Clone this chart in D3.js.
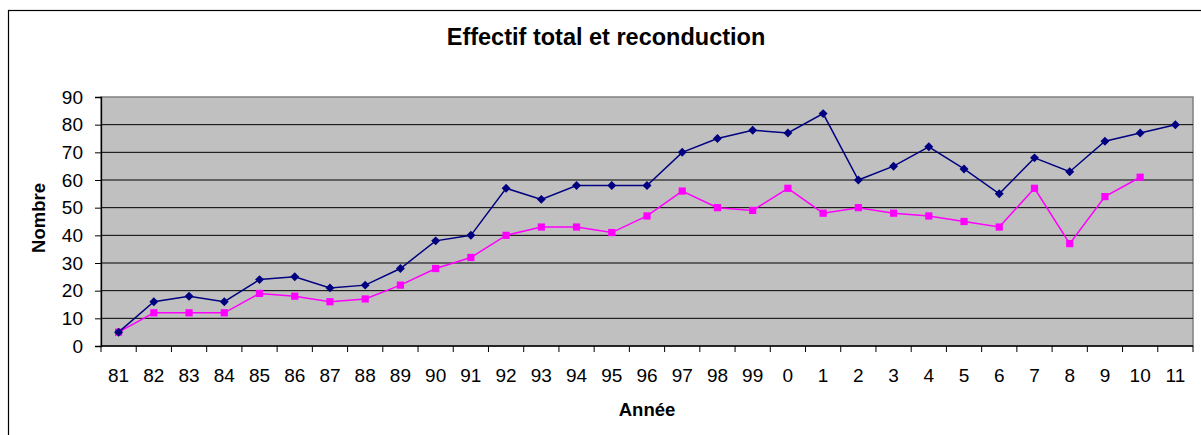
<!DOCTYPE html>
<html>
<head>
<meta charset="utf-8">
<script src="https://cdn.jsdelivr.net/npm/d3@7"></script>
<style>
  body { margin: 0; background: #fff; }
  text { font-family: "Liberation Sans", Arial, sans-serif; }
</style>
</head>
<body>
<svg id="chart" width="1201" height="435"></svg>
<script>
// years on the x axis
const annees = ["81","82","83","84","85","86","87","88","89","90","91","92","93","94","95","96","97","98","99","0","1","2","3","4","5","6","7","8","9","10","11"];
// effectif total (navy, diamonds)
const effectif = [5,16,18,16,24,25,21,22,28,38,40,57,53,58,58,58,70,75,78,77,84,60,65,72,64,55,68,63,74,77,80];
// reconduction (magenta, squares) - no value for 11
const reconduction = [5,12,12,12,19,18,16,17,22,28,32,40,43,43,41,47,56,50,49,57,48,50,48,47,45,43,57,37,54,61,null];
const yTicks = [0,10,20,30,40,50,60,70,80,90];

const svg = d3.select("#chart");

// outer chart border (runs off the right and bottom edge)
svg.append("rect")
  .attr("x", 8.5).attr("y", 10.5)
  .attr("width", 1210).attr("height", 440)
  .attr("fill", "#fff").attr("stroke", "#000").attr("stroke-width", 1.2);

const pLeft = 101, pRight = 1193, pTop = 97, pBottom = 346;

var x = d3.scaleBand().domain(annees).range([pLeft, pRight]);
var y = d3.scaleLinear().domain([0, 90]).range([pBottom, pTop]);

// plot area
svg.append("rect")
  .attr("x", pLeft).attr("y", pTop)
  .attr("width", pRight - pLeft).attr("height", pBottom - pTop)
  .attr("fill", "#c0c0c0").attr("stroke", "#808080").attr("stroke-width", 1.5);

// gridlines
svg.append("g")
  .selectAll("line")
  .data(yTicks.filter(d => d > 0 && d < 90))
  .enter().append("line")
  .attr("x1", pLeft).attr("x2", pRight)
  .attr("y1", d => y(d)).attr("y2", d => y(d))
  .attr("stroke", "#000").attr("stroke-width", 1);

// y axis
var yAxis = svg.append("g")
  .attr("transform", `translate(${pLeft},0)`)
  .call(d3.axisLeft(y).tickValues(yTicks).tickSize(6).tickPadding(12));
yAxis.select(".domain").attr("stroke", "#000").attr("stroke-width", 1.3);
yAxis.selectAll(".tick line").attr("stroke", "#000");
yAxis.selectAll("text").attr("font-size", 19).attr("fill", "#000")
  .style("font-family", "'Liberation Sans', Arial, sans-serif");

// x axis: ticks at the category boundaries
var xAxis = svg.append("g")
  .attr("transform", `translate(0,${pBottom})`);
xAxis.append("line")
  .attr("x1", pLeft).attr("x2", pRight)
  .attr("stroke", "#000").attr("stroke-width", 1.5);
xAxis.selectAll(".tk")
  .data(annees.concat(["end"]))
  .enter().append("line")
  .attr("class", "tk")
  .attr("x1", (d, i) => pLeft + i * x.step())
  .attr("x2", (d, i) => pLeft + i * x.step())
  .attr("y1", 0).attr("y2", 6)
  .attr("stroke", "#000");
xAxis.selectAll(".lbl")
  .data(annees)
  .enter().append("text")
  .attr("class", "lbl")
  .attr("x", d => x(d) + x.bandwidth() / 2)
  .attr("y", 36)
  .attr("text-anchor", "middle")
  .attr("font-size", 19)
  .text(d => d);

// series
function drawSerie(values, color, size, angle) {
  var pts = values.map((v, i) => ({ a: annees[i], v: v })).filter(d => d.v !== null);
  var line = d3.line()
    .x(d => x(d.a) + x.bandwidth() / 2)
    .y(d => y(d.v));
  svg.append("path")
    .datum(pts)
    .attr("d", line)
    .attr("fill", "none")
    .attr("stroke", color)
    .attr("stroke-width", 1.5);
  svg.append("g").selectAll("path")
    .data(pts)
    .enter().append("path")
    .attr("d", d3.symbol().type(d3.symbolSquare).size(size))
    .attr("transform", d => `translate(${x(d.a) + x.bandwidth() / 2},${y(d.v)}) rotate(${angle})`)
    .attr("fill", color);
}
drawSerie(reconduction, "#ff00ff", 52, 0);
drawSerie(effectif, "#000080", 40, 45);

// titles
svg.append("text")
  .attr("x", 606).attr("y", 45)
  .attr("text-anchor", "middle")
  .attr("font-size", 23.5).attr("font-weight", "bold")
  .text("Effectif total et reconduction");
svg.append("text")
  .attr("x", (pLeft + pRight) / 2).attr("y", 415.5)
  .attr("text-anchor", "middle")
  .attr("font-size", 18.5).attr("font-weight", "bold")
  .text("Année");
svg.append("text")
  .attr("transform", `translate(45,218) rotate(-90)`)
  .attr("text-anchor", "middle")
  .attr("font-size", 18.5).attr("font-weight", "bold")
  .text("Nombre");
</script>
</body>
</html>
